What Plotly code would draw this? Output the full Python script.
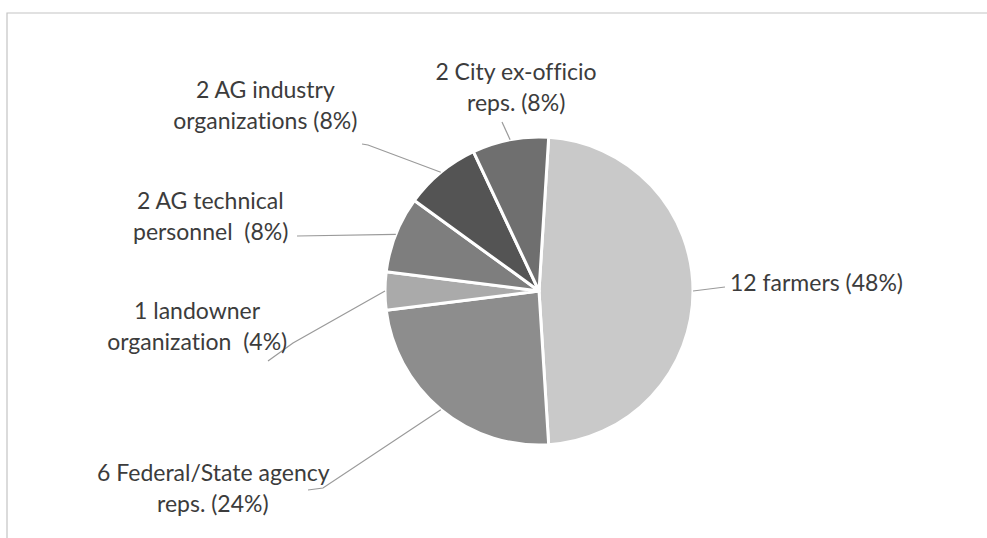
import math
import plotly.graph_objects as go

# ---- data ----
categories = ["12 farmers", "6 Federal/State agency reps.", "1 landowner organization",
              "2 AG technical personnel", "2 AG industry organizations", "2 City ex-officio reps."]
counts = [12, 6, 1, 2, 2, 2]
label_lines = [
    ["12 farmers (48%)"],
    ["6 Federal/State agency", "reps. (24%)"],
    ["1 landowner", "organization  (4%)"],
    ["2 AG technical", "personnel  (8%)"],
    ["2 AG industry", "organizations (8%)"],
    ["2 City ex-officio", "reps. (8%)"],
]
colors = ["#c9c9c9", "#8d8d8d", "#aaaaaa", "#7e7e7e", "#545454", "#6f6f6f"]

# ---- layout constants (pixels) ----
W, H = 987, 538
CX, CY, R = 539, 291, 154
ROT = 3.6
FONT = "Lato"
FS = 23
LINE_H = 31
# label anchor (center x, first line center y) and leader-line outer points
label_pos = [(816, 282), (213, 472), (197, 310), (210, 200), (265, 89), (516, 71)]
leader_pts = [
    [(725, 287)],
    [(323, 488), (308, 490)],
    [(293, 343), (268, 361)],
    [(297, 236)],
    [(368, 145), (362, 144)],
    [(502, 122)],
]

fig = go.Figure()

fig.add_trace(go.Pie(
    labels=categories, values=counts, sort=False, direction="clockwise",
    rotation=ROT, textinfo="none", hoverinfo="skip", showlegend=False,
    marker=dict(colors=colors, line=dict(color="white", width=3)),
    domain=dict(x=[(CX - R) / W, (CX + R) / W], y=[(H - CY - R) / H, (H - CY + R) / H]),
))

# hidden pixel-space axes for leader lines and labels
fig.add_trace(go.Scatter(x=[0, W], y=[0, H], mode="markers", marker=dict(opacity=0),
                         hoverinfo="skip", showlegend=False))

total = sum(counts)
cum = 0.0
shapes = []
annotations = []
for i, v in enumerate(counts):
    mid = ROT + 360.0 * (cum + v / 2) / total
    cum += v
    a = math.radians(mid)
    ex, ey = CX + R * math.sin(a), CY - R * math.cos(a)
    pts = [(ex, ey)] + leader_pts[i]
    path = "M " + " L ".join(f"{x:.1f},{y:.1f}" for x, y in pts)
    shapes.append(dict(type="path", path=path, xref="x", yref="y",
                       line=dict(color="#9a9a9a", width=1.2)))
    lx, ly = label_pos[i]
    for j, t in enumerate(label_lines[i]):
        annotations.append(dict(x=lx, y=ly + j * LINE_H, xref="x", yref="y", text=t,
                                showarrow=False, xanchor="center", yanchor="middle",
                                font=dict(family=FONT, size=FS, color="#3c3c3c")))

# frame
shapes.append(dict(type="rect", x0=7, y0=13, x1=W + 20, y1=H + 20, xref="x", yref="y",
                   line=dict(color="#c4c4c4", width=1.2), layer="below"))

fig.update_layout(
    width=W, height=H, margin=dict(l=0, r=0, t=0, b=0),
    paper_bgcolor="white", plot_bgcolor="rgba(0,0,0,0)",
    xaxis=dict(range=[0, W], visible=False, fixedrange=True),
    yaxis=dict(range=[H, 0], visible=False, fixedrange=True),
    shapes=shapes, annotations=annotations,
)

post = ("document.body.style.margin='0';document.body.style.overflow='hidden';"
        "var s=document.createElement('style');"
        "s.textContent='text{font-variant-ligatures:none !important;font-feature-settings:\"liga\" 0,\"clig\" 0 !important;}';"
        "document.head.appendChild(s);")
fig.write_html("out.html", config=dict(displayModeBar=False), post_script=post)
